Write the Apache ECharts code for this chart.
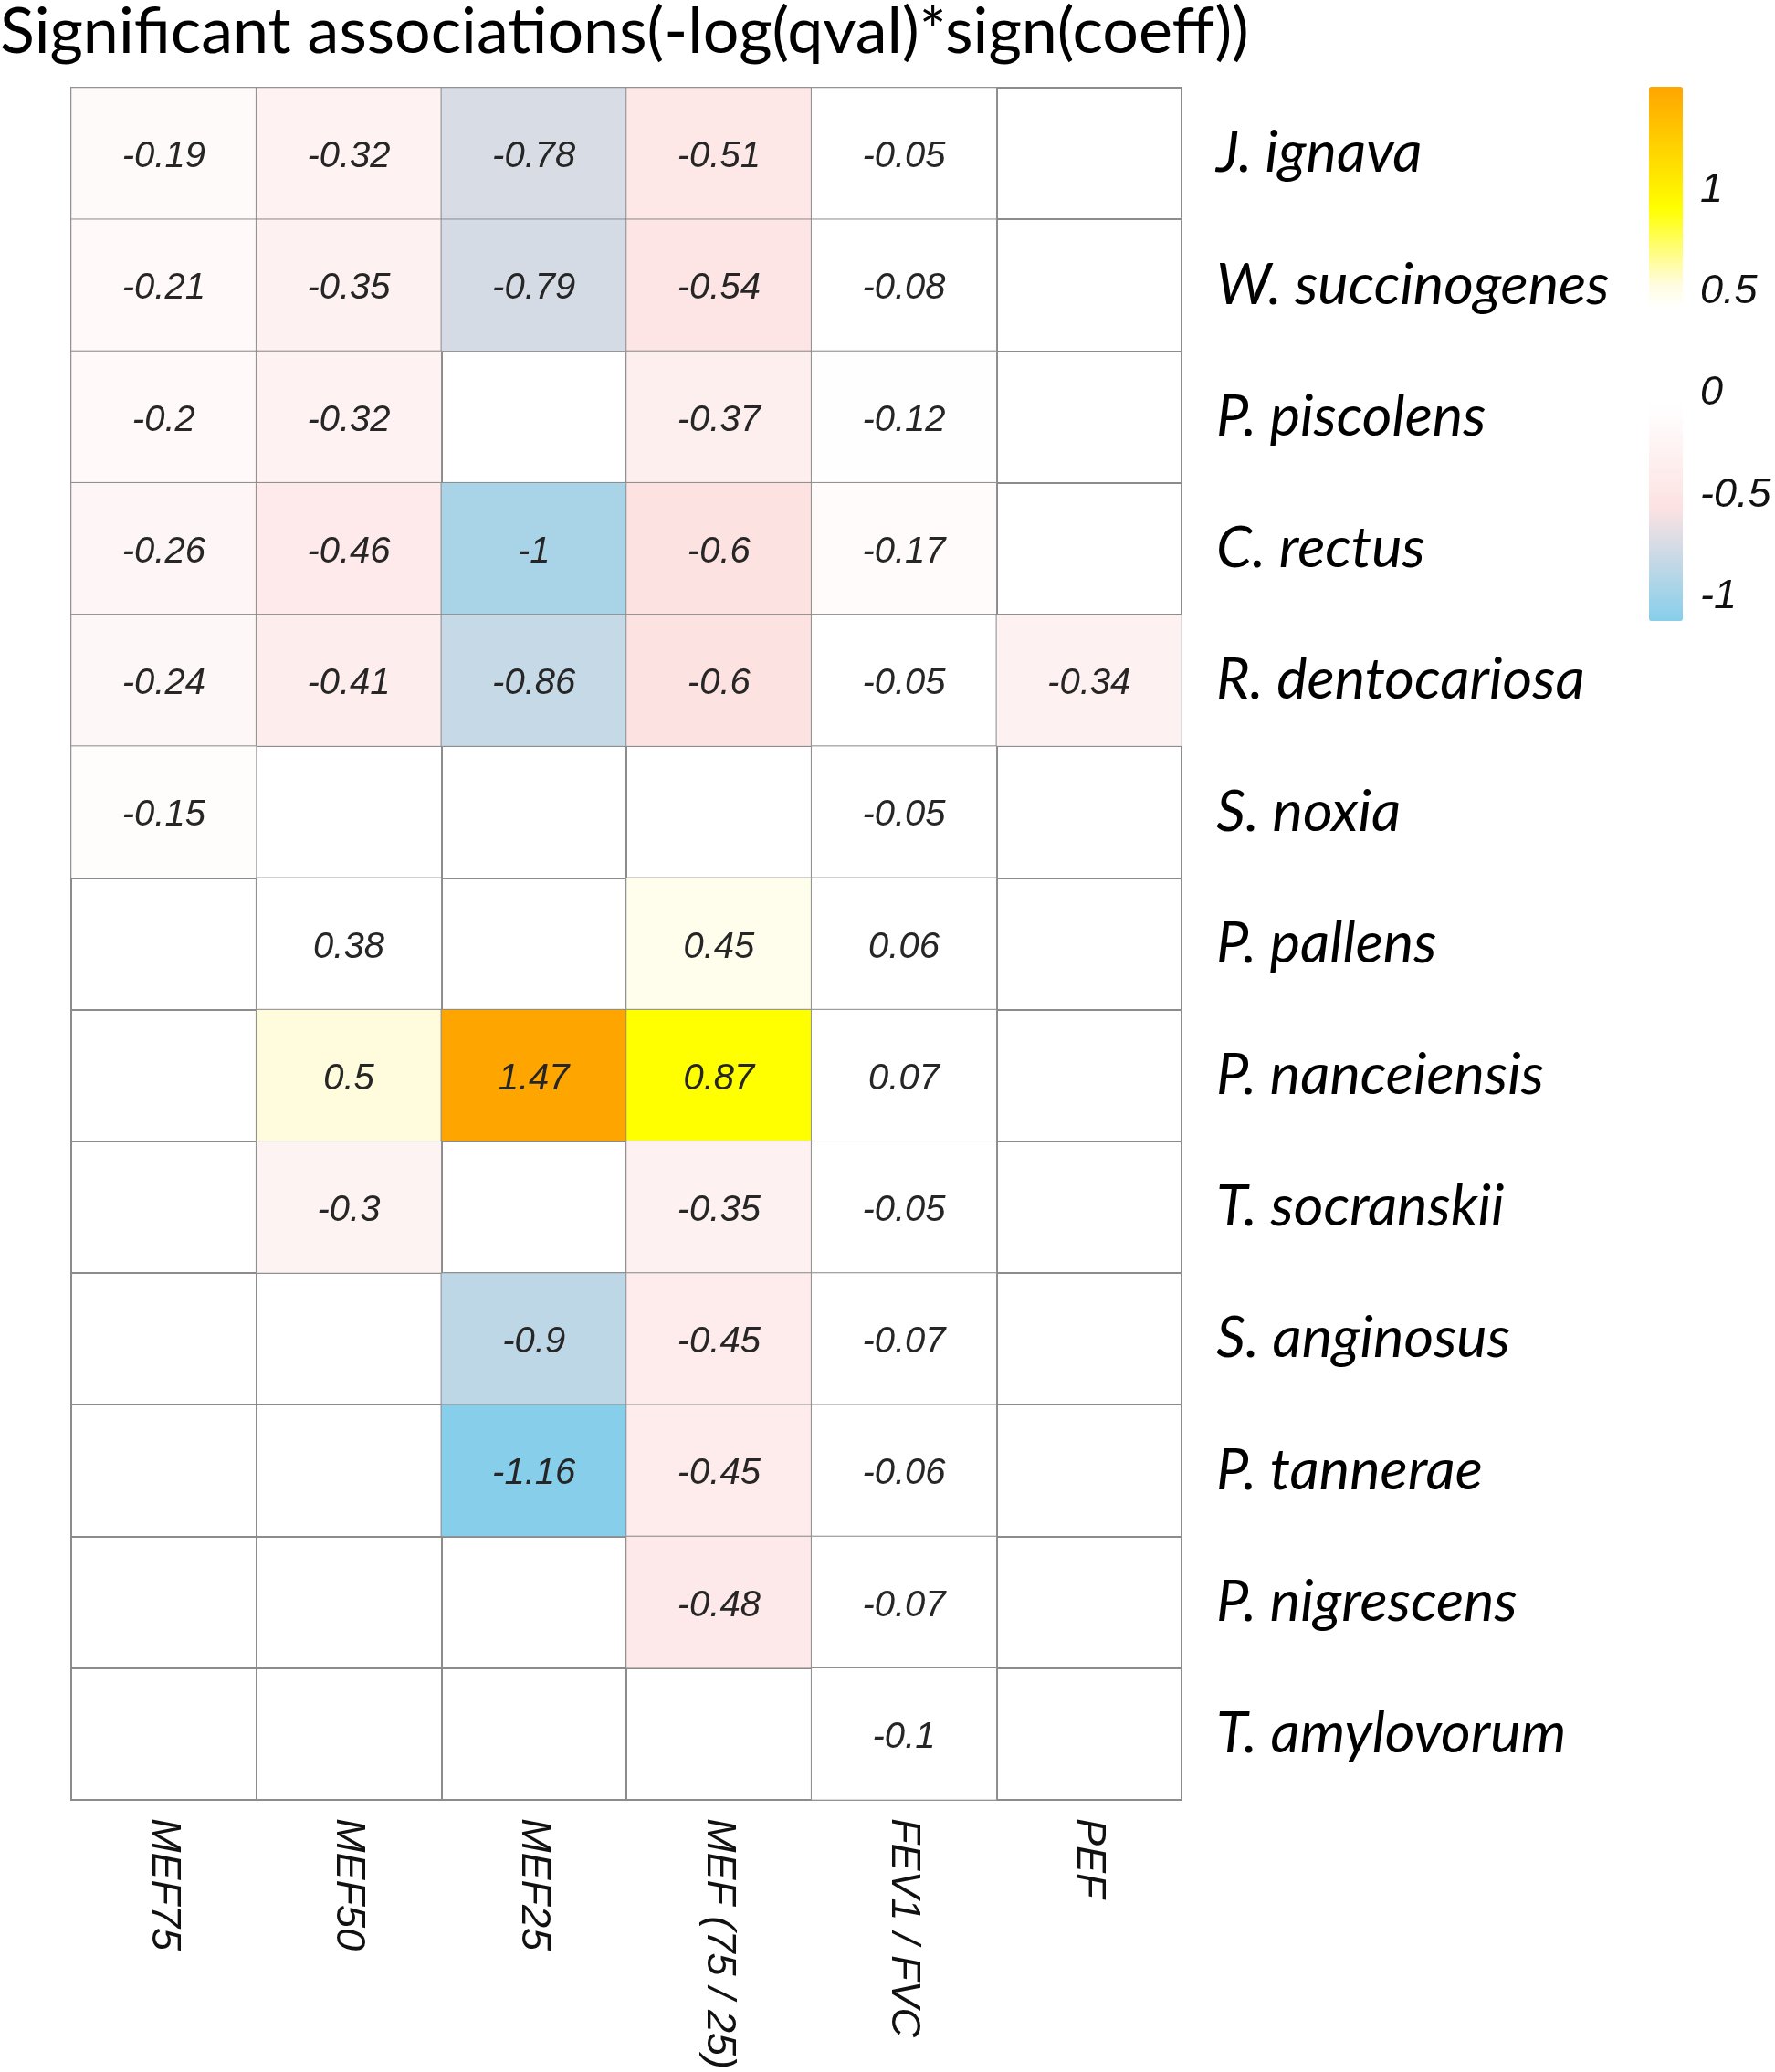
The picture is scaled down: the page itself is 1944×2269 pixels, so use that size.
<!DOCTYPE html>
<html>
<head>
<meta charset="utf-8">
<script src="https://cdn.jsdelivr.net/npm/echarts@6/dist/echarts.min.js"></script>
<style>
html,body{margin:0;padding:0;background:#fff;}
#chart{width:1944px;height:2269px;}
</style>
</head>
<body>
<div id="chart"></div>
<script>
const columns = ['MEF75', 'MEF50', 'MEF25', 'MEF (75 / 25)', 'FEV1 / FVC', 'PEF'];
const taxa = ['J. ignava', 'W. succinogenes', 'P. piscolens', 'C. rectus', 'R. dentocariosa', 'S. noxia',
  'P. pallens', 'P. nanceiensis', 'T. socranskii', 'S. anginosus', 'P. tannerae', 'P. nigrescens', 'T. amylovorum'];
const rowJignava        = [-0.19, -0.32, -0.78, -0.51, -0.05, null];
const rowWsuccinogenes  = [-0.21, -0.35, -0.79, -0.54, -0.08, null];
const rowPpiscolens     = [-0.2, -0.32, null, -0.37, -0.12, null];
const rowCrectus        = [-0.26, -0.46, -1, -0.6, -0.17, null];
const rowRdentocariosa  = [-0.24, -0.41, -0.86, -0.6, -0.05, -0.34];
const rowSnoxia         = [-0.15, null, null, null, -0.05, null];
const rowPpallens       = [null, 0.38, null, 0.45, 0.06, null];
const rowPnanceiensis   = [null, 0.5, 1.47, 0.87, 0.07, null];
const rowTsocranskii    = [null, -0.3, null, -0.35, -0.05, null];
const rowSanginosus     = [null, null, -0.9, -0.45, -0.07, null];
const rowPtannerae      = [null, null, -1.16, -0.45, -0.06, null];
const rowPnigrescens    = [null, null, null, -0.48, -0.07, null];
const rowTamylovorum    = [null, null, null, null, -0.1, null];
const rows = [rowJignava, rowWsuccinogenes, rowPpiscolens, rowCrectus, rowRdentocariosa, rowSnoxia,
  rowPpallens, rowPnanceiensis, rowTsocranskii, rowSanginosus, rowPtannerae, rowPnigrescens, rowTamylovorum];
const legendTicks = [-1, -0.5, 0, 0.5, 1];
const scaleMin = -1.16, scaleMax = 1.47;

// colour stops of the scale (value -> rgb)
const stops = [
  [-1.16, [135, 206, 235]],
  [-0.6, [253, 226, 226]],
  [-0.1, [255, 255, 255]],
  [0.38, [255, 255, 255]],
  [0.5, [255, 252, 222]],
  [0.87, [255, 255, 0]],
  [1.47, [255, 165, 0]]
];
function colorAt(v) {
  for (let i = 0; i < stops.length - 1; i++) {
    const a = stops[i], b = stops[i + 1];
    if (v <= b[0]) {
      const t = Math.max(0, (v - a[0]) / (b[0] - a[0]));
      const c = a[1].map((x, k) => Math.round(x + (b[1][k] - x) * t));
      return 'rgb(' + c.join(',') + ')';
    }
  }
  return 'rgb(' + stops[stops.length - 1][1].join(',') + ')';
}
const N = 264;
const palette = [];
for (let i = 0; i < N; i++) palette.push(colorAt(scaleMin + (scaleMax - scaleMin) * i / (N - 1)));

const data = [];
rows.forEach((r, ri) => r.forEach((v, ci) => { if (v !== null) data.push([ci, ri, v]); }));

const lineColor = '#8c8c8c';
const chart = echarts.init(document.getElementById('chart'), null, {renderer: 'canvas'});
chart.setOption({
  backgroundColor: '#ffffff',
  animation: false,
  title: {
    text: 'Significant associations(-log(qval)*sign(coeff))',
    left: 0, top: 0, padding: 0,
    textStyle: {fontFamily: 'Lato', fontWeight: 'normal', fontSize: 70, color: '#000'}
  },
  grid: [
    {left: 78, top: 96, width: 1216, height: 1875, show: true, borderColor: lineColor, borderWidth: 2, containLabel: false},
    {left: 1806, top: 104, width: 37, height: 585, show: false}
  ],
  xAxis: [
    {
      type: 'category', data: columns, position: 'bottom', gridIndex: 0,
      axisLine: {show: false}, axisTick: {show: false},
      splitLine: {show: true, interval: 0, lineStyle: {color: lineColor, width: 2}},
      axisLabel: {rotate: -90, margin: 20, interval: 0, fontFamily: 'Liberation Sans', fontStyle: 'italic', fontSize: 45, color: '#111'}
    },
    {type: 'value', gridIndex: 1, show: false, min: 0, max: 1}
  ],
  yAxis: [
    {
      type: 'category', data: taxa, inverse: true, position: 'right', gridIndex: 0,
      axisLine: {show: false}, axisTick: {show: false},
      splitLine: {show: true, interval: 0, lineStyle: {color: lineColor, width: 2}},
      axisLabel: {margin: 38, align: 'left', interval: 0, padding: [16, 0, 0, 0], fontFamily: 'Lato', fontStyle: 'italic', fontSize: 63, color: '#000'}
    },
    {
      type: 'value', gridIndex: 1, min: scaleMin, max: scaleMax, position: 'right',
      axisLine: {show: false}, axisTick: {show: false}, splitLine: {show: false},
      axisLabel: {customValues: legendTicks, margin: 19, fontFamily: 'Liberation Sans', fontStyle: 'italic', fontSize: 45, color: '#111'}
    }
  ],
  visualMap: {
    type: 'continuous', seriesIndex: 0, min: scaleMin, max: scaleMax,
    calculable: false, orient: 'vertical', left: 1806, top: 95, padding: 0,
    itemWidth: 37, itemHeight: 585, text: null, showLabel: false, hoverLink: false,
    inRange: {color: palette}
  },
  series: [{
    type: 'heatmap', xAxisIndex: 0, yAxisIndex: 0, data: data,
    itemStyle: {borderColor: lineColor, borderWidth: 1},
    label: {
      show: true, fontFamily: 'Liberation Sans', fontStyle: 'italic', fontSize: 40, color: '#262626',
      offset: [0, 4],
      formatter: p => String(p.value[2])
    },
    emphasis: {disabled: true}
  }]
});
</script>
</body>
</html>
